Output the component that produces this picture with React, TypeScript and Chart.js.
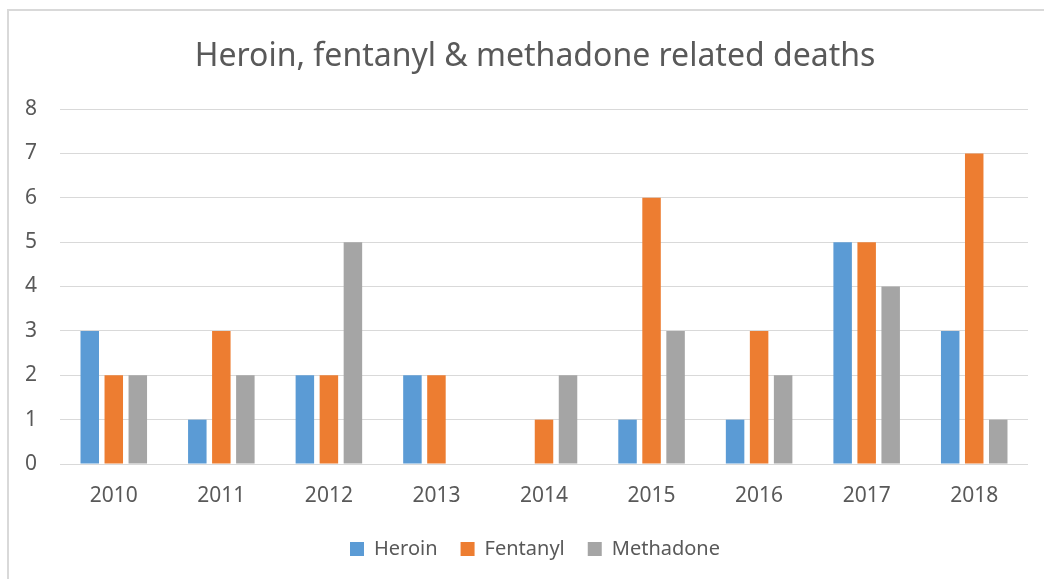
import React, { useEffect, useRef } from "react";
import { Chart, registerables } from "chart.js";

Chart.register(...registerables);

const categories = ["2010", "2011", "2012", "2013", "2014", "2015", "2016", "2017", "2018"];
const heroin = [3, 1, 2, 2, 0, 1, 1, 5, 3];
const fentanyl = [2, 3, 2, 2, 1, 6, 3, 5, 7];
const methadone = [2, 2, 5, 0, 2, 3, 2, 4, 1];
const seriesNames = ["Heroin", "Fentanyl", "Methadone"];
const titleText = "Heroin, fentanyl & methadone related deaths";

const TEXT = "#595959";
const GRID = "#D9D9D9";
const FONT = "'Noto Sans', 'Open Sans', sans-serif";

export default function App() {
  const ref = useRef<HTMLCanvasElement | null>(null);

  useEffect(() => {
    if (!ref.current) return;
    const chart = new Chart(ref.current, {
      type: "bar",
      data: {
        labels: categories,
        datasets: [
          { label: seriesNames[0], data: heroin, backgroundColor: "#5B9BD5" },
          { label: seriesNames[1], data: fentanyl, backgroundColor: "#ED7D31" },
          { label: seriesNames[2], data: methadone, backgroundColor: "#A5A5A5" },
        ],
      },
      options: {
        responsive: false,
        maintainAspectRatio: false,
        animation: false,
        datasets: { bar: { categoryPercentage: 0.67, barPercentage: 0.77 } },
        layout: { padding: { left: 0, right: 0, top: 0, bottom: 1 } },
        plugins: {
          title: {
            display: true,
            text: titleText,
            color: TEXT,
            font: { family: FONT, size: 32, weight: "normal" },
            padding: { top: 38, bottom: 32.6 },
          },
          legend: {
            display: true,
            position: "bottom",
            labels: {
              color: TEXT,
              font: { family: FONT, size: 20 },
              boxWidth: 14,
              boxHeight: 14,
              padding: 23,
            },
          },
          tooltip: { enabled: false },
        },
        scales: {
          x: {
            grid: { display: false, drawTicks: false },
            border: { display: false },
            ticks: { color: TEXT, font: { family: FONT, size: 21 }, padding: 19 },
            afterFit: (s: any) => {
              s.height = 52;
            },
          },
          y: {
            min: 0,
            max: 8,
            ticks: { stepSize: 1, color: TEXT, font: { family: FONT, size: 21 }, padding: 23 },
            grid: { color: GRID, lineWidth: 1, drawTicks: false },
            border: { display: false },
            afterFit: (s: any) => {
              s.width = 60;
            },
          },
          yRight: {
            position: "right",
            display: true,
            min: 0,
            max: 1,
            ticks: { display: false },
            grid: { display: false, drawTicks: false },
            border: { display: false },
            afterFit: (s: any) => {
              s.width = 42;
            },
          },
        },
      },
    });
    return () => chart.destroy();
  }, []);

  return (
    <div
      style={{
        position: "fixed",
        left: 0,
        top: 0,
        width: 1044,
        height: 579,
        overflow: "hidden",
        background: "#fff",
      }}
    >
      <div
        style={{
          position: "absolute",
          left: 7,
          top: 9,
          width: 1100,
          height: 700,
          border: "2px solid #D9D9D9",
        }}
      />
      <canvas
        ref={ref}
        width={1070}
        height={570}
        style={{ position: "absolute", left: 0, top: 0, width: 1070, height: 570 }}
      />
    </div>
  );
}
